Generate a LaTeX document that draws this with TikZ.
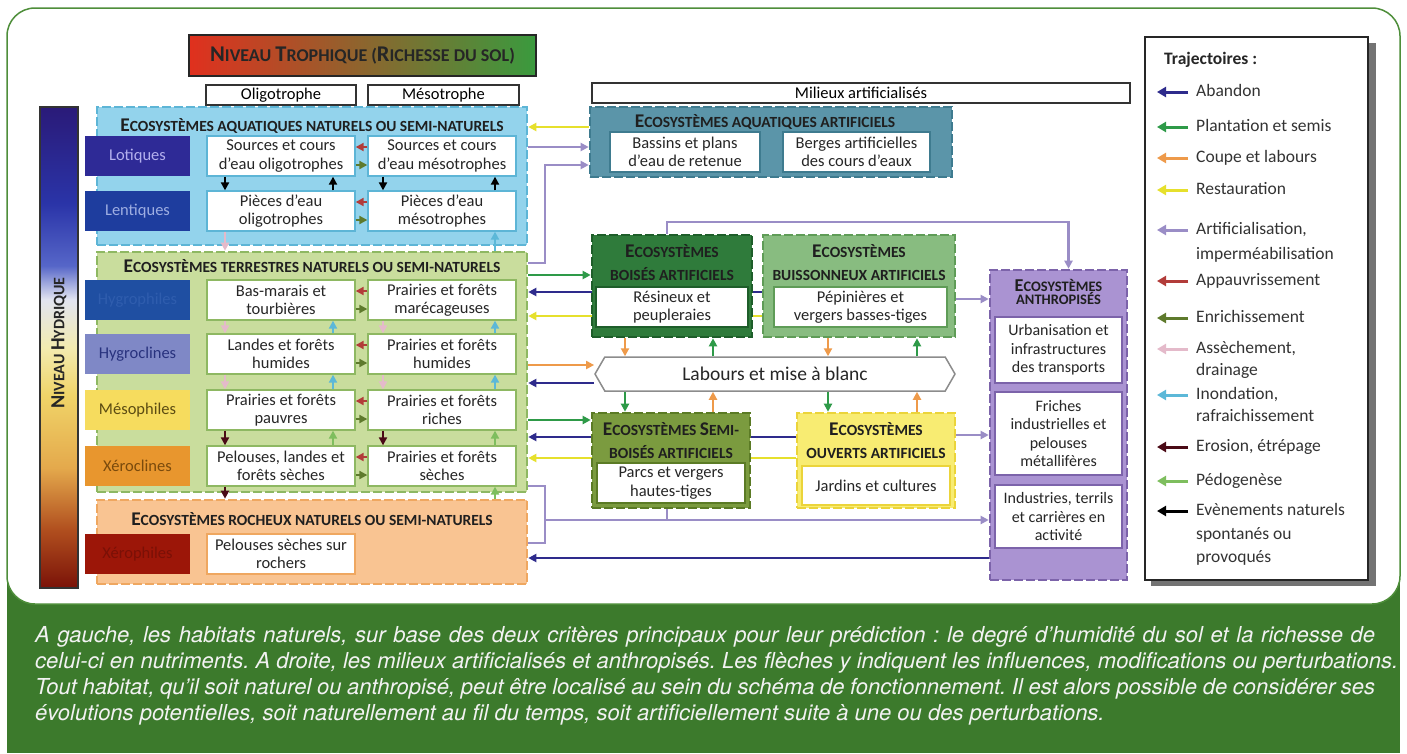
\documentclass[tikz,border=0pt]{standalone}
\usepackage{fontspec}
\setmainfont{Carlito}
\newfontfamily\capfont{TeX Gyre Heros}
\usetikzlibrary{arrows.meta,shapes.symbols,backgrounds}
\frenchspacing

\definecolor{panelG}{HTML}{3C7A2C}
\definecolor{frameG}{HTML}{4E8E3A}
\definecolor{trR}{HTML}{E0301E}
\definecolor{trY}{HTML}{F5EFB8}
\definecolor{trG}{HTML}{3A9A3E}
\definecolor{hy0}{HTML}{7A1208}
\definecolor{hy1}{HTML}{B04E1E}
\definecolor{hy2}{HTML}{E4A94C}
\definecolor{hy3}{HTML}{F0D468}
\definecolor{hy4}{HTML}{F3EBB0}
\definecolor{hy5}{HTML}{E2E4F0}
\definecolor{hy6}{HTML}{5666C8}
\definecolor{hy7}{HTML}{2A34A8}
\definecolor{hy8}{HTML}{2A1A78}
\definecolor{aqnF}{HTML}{93D3EC}\definecolor{aqnD}{HTML}{5DB5D6}
\definecolor{terF}{HTML}{C9DD9D}\definecolor{terD}{HTML}{8EB862}
\definecolor{rocF}{HTML}{F9C492}\definecolor{rocD}{HTML}{EFA760}
\definecolor{aqaF}{HTML}{5B95A9}\definecolor{aqaD}{HTML}{3E7B8F}
\definecolor{boiF}{HTML}{2F7B3B}\definecolor{boiD}{HTML}{1E5E2A}
\definecolor{buiF}{HTML}{88BC80}\definecolor{buiD}{HTML}{5F9C57}
\definecolor{sboF}{HTML}{7B9B3F}\definecolor{sboD}{HTML}{5B7B25}
\definecolor{ouvF}{HTML}{F8EC72}\definecolor{ouvD}{HTML}{EBD43A}
\definecolor{antF}{HTML}{AA93D2}\definecolor{antD}{HTML}{7C63AA}
\definecolor{lotF}{HTML}{2E2A96}\definecolor{lotT}{HTML}{B4B0EE}
\definecolor{lenF}{HTML}{1E3D9E}\definecolor{lenT}{HTML}{9EAEE2}
\definecolor{hgpF}{HTML}{1F4FA2}\definecolor{hgpT}{HTML}{2F5DAE}
\definecolor{hgcF}{HTML}{7F88C6}\definecolor{hgcT}{HTML}{28327E}
\definecolor{mesF}{HTML}{F6DC5E}\definecolor{mesT}{HTML}{5C4C12}
\definecolor{xclF}{HTML}{E8962E}\definecolor{xclT}{HTML}{7A4A0C}
\definecolor{xphF}{HTML}{9C1608}\definecolor{xphT}{HTML}{7A1006}
\definecolor{cAban}{HTML}{2E2B8C}
\definecolor{cPlan}{HTML}{2E9A48}
\definecolor{cCoup}{HTML}{EE9A4A}
\definecolor{cRest}{HTML}{E6E02C}
\definecolor{cArti}{HTML}{9A8DC6}
\definecolor{cAppa}{HTML}{B23C3A}
\definecolor{cEnri}{HTML}{5E7A2C}
\definecolor{cAsse}{HTML}{E4BACA}
\definecolor{cInon}{HTML}{5CB8D8}
\definecolor{cEros}{HTML}{4A0A16}
\definecolor{cPedo}{HTML}{7EBE5E}

\pgfdeclareverticalshading{hydro}{100bp}{color(0bp)=(hy0); color(25bp)=(hy0);
  color(31bp)=(hy1); color(37.5bp)=(hy2); color(45bp)=(hy3); color(50bp)=(hy4);
  color(55bp)=(hy5); color(58.5bp)=(hy6); color(65bp)=(hy7); color(75bp)=(hy8); color(100bp)=(hy8)}

\newcommand\fsIn{\fontsize{16.5}{18.5}\selectfont}
\newcommand\fsAnt{\fontsize{16}{18.3}\selectfont}
\newcommand\fsTtl{\bfseries\fontsize{15.5}{23}\selectfont}
\newcommand\fsTro{\bfseries\fontsize{18}{20}\selectfont}
\newcommand\fsHyd{\bfseries\fontsize{16}{18}\selectfont}
\newcommand\fsLab{\fontsize{19.5}{22}\selectfont}
\newcommand\fsLeg{\fontsize{17.5}{22}\selectfont}
\newcommand\fsCap{\capfont\itshape\fontsize{22}{26}\selectfont}
\makeatletter
\newcommand\grand[1]{{\fontsize{\strip@pt\dimexpr\f@size pt*5/4\relax}{\f@baselineskip}\selectfont #1}}
\makeatother

\begin{document}
\begin{tikzpicture}[x=1pt, y=-1pt,
  cont/.style={draw=#1, dash pattern=on 9pt off 3pt, line width=2.6pt, inner sep=0pt},
  inb/.style={draw=#1, fill=white, line width=1.3pt, align=center, font=\fsIn, text=black!85, inner sep=0pt},
  inl/.style={inb=#1, minimum width=148pt, minimum height=40pt},
  rowlab/.style={fill=#1, minimum width=105pt, minimum height=40pt, font=\fsIn, inner sep=0pt},
  hdr/.style={draw=black!80, line width=1.6pt, minimum height=20pt, inner sep=0pt, font=\fsIn},
  ttl/.style={font=\fsTtl, text=black!88, align=center, inner sep=0pt},
  traj/.style={draw=#1, line width=2.2pt, -{Triangle[length=8pt,width=8pt]}},
  legarr/.style={draw=#1, line width=3pt, -{Triangle[length=9pt,width=10pt]}},
  legtxt/.style={anchor=west, font=\fsLeg, text=black!80, inner sep=0pt, text height=12pt, text depth=3.5pt},
  captxt/.style={anchor=base west, font=\fsCap, text=white!95!black, inner sep=0pt}]
\useasboundingbox (0,0) rectangle (1407,753);
\begin{scope}[on background layer]
  \fill[panelG] (7,560) rectangle (1400,753);
  \draw[frameG, line width=1.5pt, fill=white, rounded corners=28pt] (7,8) rectangle (1400,604);
\end{scope}

% en-tetes
\shade[left color=trR, middle color=trY, right color=trG] (189,35) rectangle (536,76);
\node[draw=black!85, line width=2.2pt, minimum width=347pt, minimum height=41pt, inner sep=0pt,
  font=\fsTro, text=black!85] (troph) at (362.5,55.5)
  {\grand{N}IVEAU \grand{T}ROPHIQUE (\grand{R}ICHESSE DU SOL)};
\node[hdr, minimum width=150pt] (oligo) at (281,95) {Oligotrophe};
\node[hdr, minimum width=151pt] (meso) at (443.5,95) {Mésotrophe};
\node[hdr, minimum width=538pt] (milieux) at (861,93) {Milieux artificialisés};
\shade[shading=hydro] (40,107) rectangle (78,588);
\draw[black!80, line width=1.5pt] (40,107) rectangle (78,588);
\node[rotate=90, font=\fsHyd, text=black!85] (hydro) at (59,343) {\grand{N}IVEAU \grand{H}YDRIQUE};

% milieux naturels
\node[cont=aqnD, fill=aqnF, minimum width=430pt, minimum height=138pt] (aqn) at (312,176) {};
\node[cont=terD, fill=terF, minimum width=430pt, minimum height=240pt] (ter) at (312,372) {};
\node[cont=rocD, fill=rocF, minimum width=430pt, minimum height=84pt] (roc) at (312,542) {};
\node[ttl] (aqnT) at (312,126) {\grand{E}COSYSTÈMES AQUATIQUES NATURELS OU SEMI-NATURELS};
\node[ttl] (terT) at (312,266) {\grand{E}COSYSTÈMES TERRESTRES NATURELS OU SEMI-NATURELS};
\node[ttl] (rocT) at (312,519) {\grand{E}COSYSTÈMES ROCHEUX NATURELS OU SEMI-NATURELS};
\foreach \n/\y/\f/\t/\txt in {lot/156/lotF/lotT/Lotiques, len/211/lenF/lenT/Lentiques,
    hgp/300/hgpF/hgpT/Hygrophiles, hgc/354/hgcF/hgcT/Hygroclines, mes/410/mesF/mesT/Mésophiles,
    xcl/466/xclF/xclT/Xéroclines, xph/554/xphF/xphT/Xérophiles}
  \node[rowlab=\f, text=\t] (\n) at (137.5,\y) {\txt};
\foreach \n/\y/\c/\a/\b in {
    a1/156/aqnD/{Sources et cours\\d’eau oligotrophes}/{Sources et cours\\d’eau mésotrophes},
    a2/211/aqnD/{Pièces d’eau\\oligotrophes}/{Pièces d’eau\\mésotrophes},
    t1/300/terD/{Bas-marais et\\tourbières}/{Prairies et forêts\\marécageuses},
    t2/354/terD/{Landes et forêts\\humides}/{Prairies et forêts\\humides},
    t3/410/terD/{Prairies et forêts\\pauvres}/{Prairies et forêts\\riches},
    t4/466/terD/{Pelouses, landes et\\forêts sèches}/{Prairies et forêts\\sèches}}
  {\node[inl=\c] (\n1) at (281,\y) {\a};
   \node[inl=\c] (\n2) at (442,\y) {\b};}
\node[inl=rocD] (r1) at (281,554) {Pelouses sèches sur\\rochers};

% milieux artificialises
\node[cont=aqaD, fill=aqaF, minimum width=362pt, minimum height=70pt] (aqa) at (771,142) {};
\node[ttl] (aqaT) at (765,122) {\grand{E}COSYSTÈMES AQUATIQUES ARTIFICIELS};
\node[inb=aqaD, minimum width=150pt, minimum height=40pt] (aqa1) at (685,152) {Bassins et plans\\d’eau de retenue};
\node[inb=aqaD, minimum width=147pt, minimum height=40pt] (aqa2) at (856.5,152) {Berges artificielles\\des cours d’eaux};
\node[cont=boiD, fill=boiF, minimum width=160pt, minimum height=102pt] (boi) at (672,286) {};
\node[ttl] (boiT) at (672,263) {\grand{E}COSYSTÈMES\\BOISÉS ARTIFICIELS};
\node[inb=boiD, minimum width=152pt, minimum height=40pt] (boi1) at (672,307) {Résineux et\\peupleraies};
\node[cont=buiD, fill=buiF, minimum width=192pt, minimum height=102pt] (bui) at (859,286) {};
\node[ttl] (buiT) at (859,263) {\grand{E}COSYSTÈMES\\BUISSONNEUX ARTIFICIELS};
\node[inb=buiD, minimum width=173pt, minimum height=40pt] (bui1) at (860.5,307) {Pépinières et\\vergers basses-tiges};
\node[shape=signal, signal to=east and west, signal pointer angle=120, draw=black!45, line width=1.5pt,
  fill=white, minimum width=360pt, minimum height=34pt, inner sep=0pt, font=\fsLab, text=black!85]
  (lab) at (775,374) {Labours et mise à blanc};
\node[cont=sboD, fill=sboF, minimum width=158pt, minimum height=95pt] (sbo) at (671,460.5) {};
\node[ttl] (sboT) at (671,441) {\grand{E}COSYSTÈMES \grand{S}EMI-\\BOISÉS ARTIFICIELS};
\node[inb=sboD, minimum width=148pt, minimum height=40pt] (sbo1) at (671,483) {Parcs et vergers\\hautes-tiges};
\node[cont=ouvD, fill=ouvF, minimum width=158pt, minimum height=95pt] (ouv) at (876,460.5) {};
\node[ttl] (ouvT) at (876,441) {\grand{E}COSYSTÈMES\\OUVERTS ARTIFICIELS};
\node[inb=ouvD, minimum width=148pt, minimum height=39pt] (ouv1) at (876,485.5) {Jardins et cultures};
\node[cont=antD, fill=antF, minimum width=137pt, minimum height=310pt] (ant) at (1058.5,425) {};
\node[ttl, font=\bfseries\fontsize{14.5}{13.5}\selectfont] (antT) at (1058.5,292) {\grand{E}COSYSTÈMES\\ANTHROPISÉS};
\node[inb=antD, font=\fsAnt, minimum width=127pt, minimum height=66pt] (ant1) at (1058.5,350) {Urbanisation et\\infrastructures\\des transports};
\node[inb=antD, font=\fsAnt, minimum width=127pt, minimum height=83pt] (ant2) at (1058.5,433.5) {Friches\\industrielles et\\pelouses\\métallifères};
\node[inb=antD, font=\fsAnt, minimum width=127pt, minimum height=63pt] (ant3) at (1058.5,516.5) {Industries, terrils\\et carrières en\\activité};

% trajectoires entre milieux
\begin{scope}[on background layer]
  \draw[traj=cRest] (aqa.west |- 0,127) -- (aqn.east |- 0,127);
  \draw[traj=cArti] (aqn.east |- 0,147) -- (aqa.west |- 0,147);
  \draw[traj=cArti] (ter.east |- 0,263) -- (545,263) -- (545,165) -- (aqa.west |- 0,165);
  \draw[traj=cArti] (667,0 |- boi.north) -- (667,222) -| ([xshift=10pt]ant.north);
  \draw[traj=cPlan] (ter.east |- 0,275) -- (boi.west |- 0,275);
  \draw[traj=cAban] (bui.west |- 0,292) -- (ter.east |- 0,292);
  \draw[traj=cRest] (bui.west |- 0,316) -- (ter.east |- 0,316);
  \draw[traj=cArti] (bui.east |- 0,299) -- (ant.west |- 0,299);
  \draw[traj=cCoup] (ter.east |- 0,365) -- (lab.west |- 0,365);
  \draw[traj=cAban] (lab.west |- 0,383) -- (ter.east |- 0,383);
  \draw[traj=cPlan] (ter.east |- 0,420) -- (sbo.west |- 0,420);
  \draw[traj=cAban] (ouv.west |- 0,437) -- (ter.east |- 0,437);
  \draw[traj=cRest] (ouv.west |- 0,458) -- (ter.east |- 0,458);
  \draw[traj=cArti] (ouv.east |- 0,435) -- (ant.west |- 0,435);
  \draw[cArti, line width=2.2pt] (ter.east |- 0,486) -- (545,486) -- (545,543) -- (roc.east |- 0,543);
  \draw[cArti, line width=2.2pt] (667,0 |- sbo.south) -- (667,520);
  \draw[traj=cArti] (545,520) -- (ant.west |- 0,520);
  \draw[traj=cAban] (ant.west |- 0,558) -- (roc.east |- 0,558);
\end{scope}
\draw[traj=cCoup] (625,0 |- boi.south) -- (625,0 |- lab.north);
\draw[traj=cPlan] (713,0 |- lab.north) -- (713,0 |- boi.south);
\draw[traj=cCoup] (828,0 |- bui.south) -- (828,0 |- lab.north);
\draw[traj=cPlan] (917,0 |- lab.north) -- (917,0 |- bui.south);
\draw[traj=cPlan] (625,0 |- lab.south) -- (625,0 |- sbo.north);
\draw[traj=cCoup] (713,0 |- sbo.north) -- (713,0 |- lab.south);
\draw[traj=cPlan] (828,0 |- lab.south) -- (828,0 |- ouv.north);
\draw[traj=cCoup] (917,0 |- ouv.north) -- (917,0 |- lab.south);

% trajectoires naturelles
\foreach \r in {a1,a2,t1,t2,t3,t4} {
  \draw[traj=cAppa] ([yshift=9pt]\r2.west) -- ([yshift=9pt]\r1.east);
  \draw[traj=cEnri] ([yshift=-9pt]\r1.east) -- ([yshift=-9pt]\r2.west);
}
\foreach \ra/\rb/\cd/\cu in {a1/a2/black/black, t1/t2/cAsse/cInon, t2/t3/cAsse/cInon, t3/t4/cEros/cPedo} {
  \draw[traj=\cd] (225,0 |- \ra1.south) -- (225,0 |- \rb1.north);
  \draw[traj=\cu] (333,0 |- \rb1.north) -- (333,0 |- \ra1.south);
  \draw[traj=\cd] (383,0 |- \ra2.south) -- (383,0 |- \rb2.north);
  \draw[traj=\cu] (495,0 |- \rb2.north) -- (495,0 |- \ra2.south);
}
\draw[traj=cAsse] (225,0 |- a21.south) -- (225,0 |- ter.north);
\draw[traj=cInon] (495,0 |- ter.north) -- (495,0 |- a22.south);
\draw[traj=cEros] (225,0 |- t41.south) -- (225,0 |- roc.north);
\draw[traj=cPedo] (495,0 |- roc.north) -- (495,0 |- t42.south);

% legende
\fill[black!55] (1151,43) rectangle (1376,586);
\node[draw=black!85, fill=white, line width=1.6pt, minimum width=223pt, minimum height=543pt, inner sep=0pt] (leg) at (1256.5,308.5) {};
\node[anchor=base west, font=\bfseries\fsLeg, text=black!85, inner sep=0pt] (legT) at (1164,64) {Trajectoires :};
\foreach \y/\c/\t [count=\i] in {92/cAban/Abandon, 127/cPlan/Plantation et semis, 158/cCoup/Coupe et labours,
    190/cRest/Restauration, 230/cArti/{Artificialisation,}, 281/cAppa/Appauvrissement, 318/cEnri/Enrichissement,
    349/cAsse/{Assèchement,}, 395/cInon/{Inondation,}, 447/cEros/{Erosion, étrépage}, 481/cPedo/Pédogenèse,
    511/black/Evènements naturels}
  {\coordinate (legA\i) at (1157,\y);
   \draw[legarr=\c] (1188,\y) -- (legA\i);
   \node[legtxt] (leg\i) at (1196,\y) {\t};}
\foreach \y/\t [count=\i] in {255/imperméabilisation, 371/drainage, 417/rafraichissement, 535/spontanés ou, 558/provoqués}
  \node[legtxt] (legc\i) at (1196,\y) {\t};

% legende du schema
\foreach \w/\t [count=\i] in {
    1340/{A gauche, les habitats naturels, sur base des deux critères principaux pour leur prédiction : le degré d’humidité du sol et la richesse de},
    1363/{celui-ci en nutriments. A droite, les milieux artificialisés et anthropisés. Les flèches y indiquent les influences, modifications ou perturbations.},
    1340/{Tout habitat, qu’il soit naturel ou anthropisé, peut être localisé au sein du schéma de fonctionnement. Il est alors possible de considérer ses}}
  \node[captxt] (cap\i) at (35,{642+26*(\i-1)}) {\hbox to \w pt{\t}};
\node[captxt] (cap4) at (35,720) {évolutions potentielles, soit naturellement au fil du temps, soit artificiellement suite à une ou des perturbations.};
\end{tikzpicture}
\end{document}
